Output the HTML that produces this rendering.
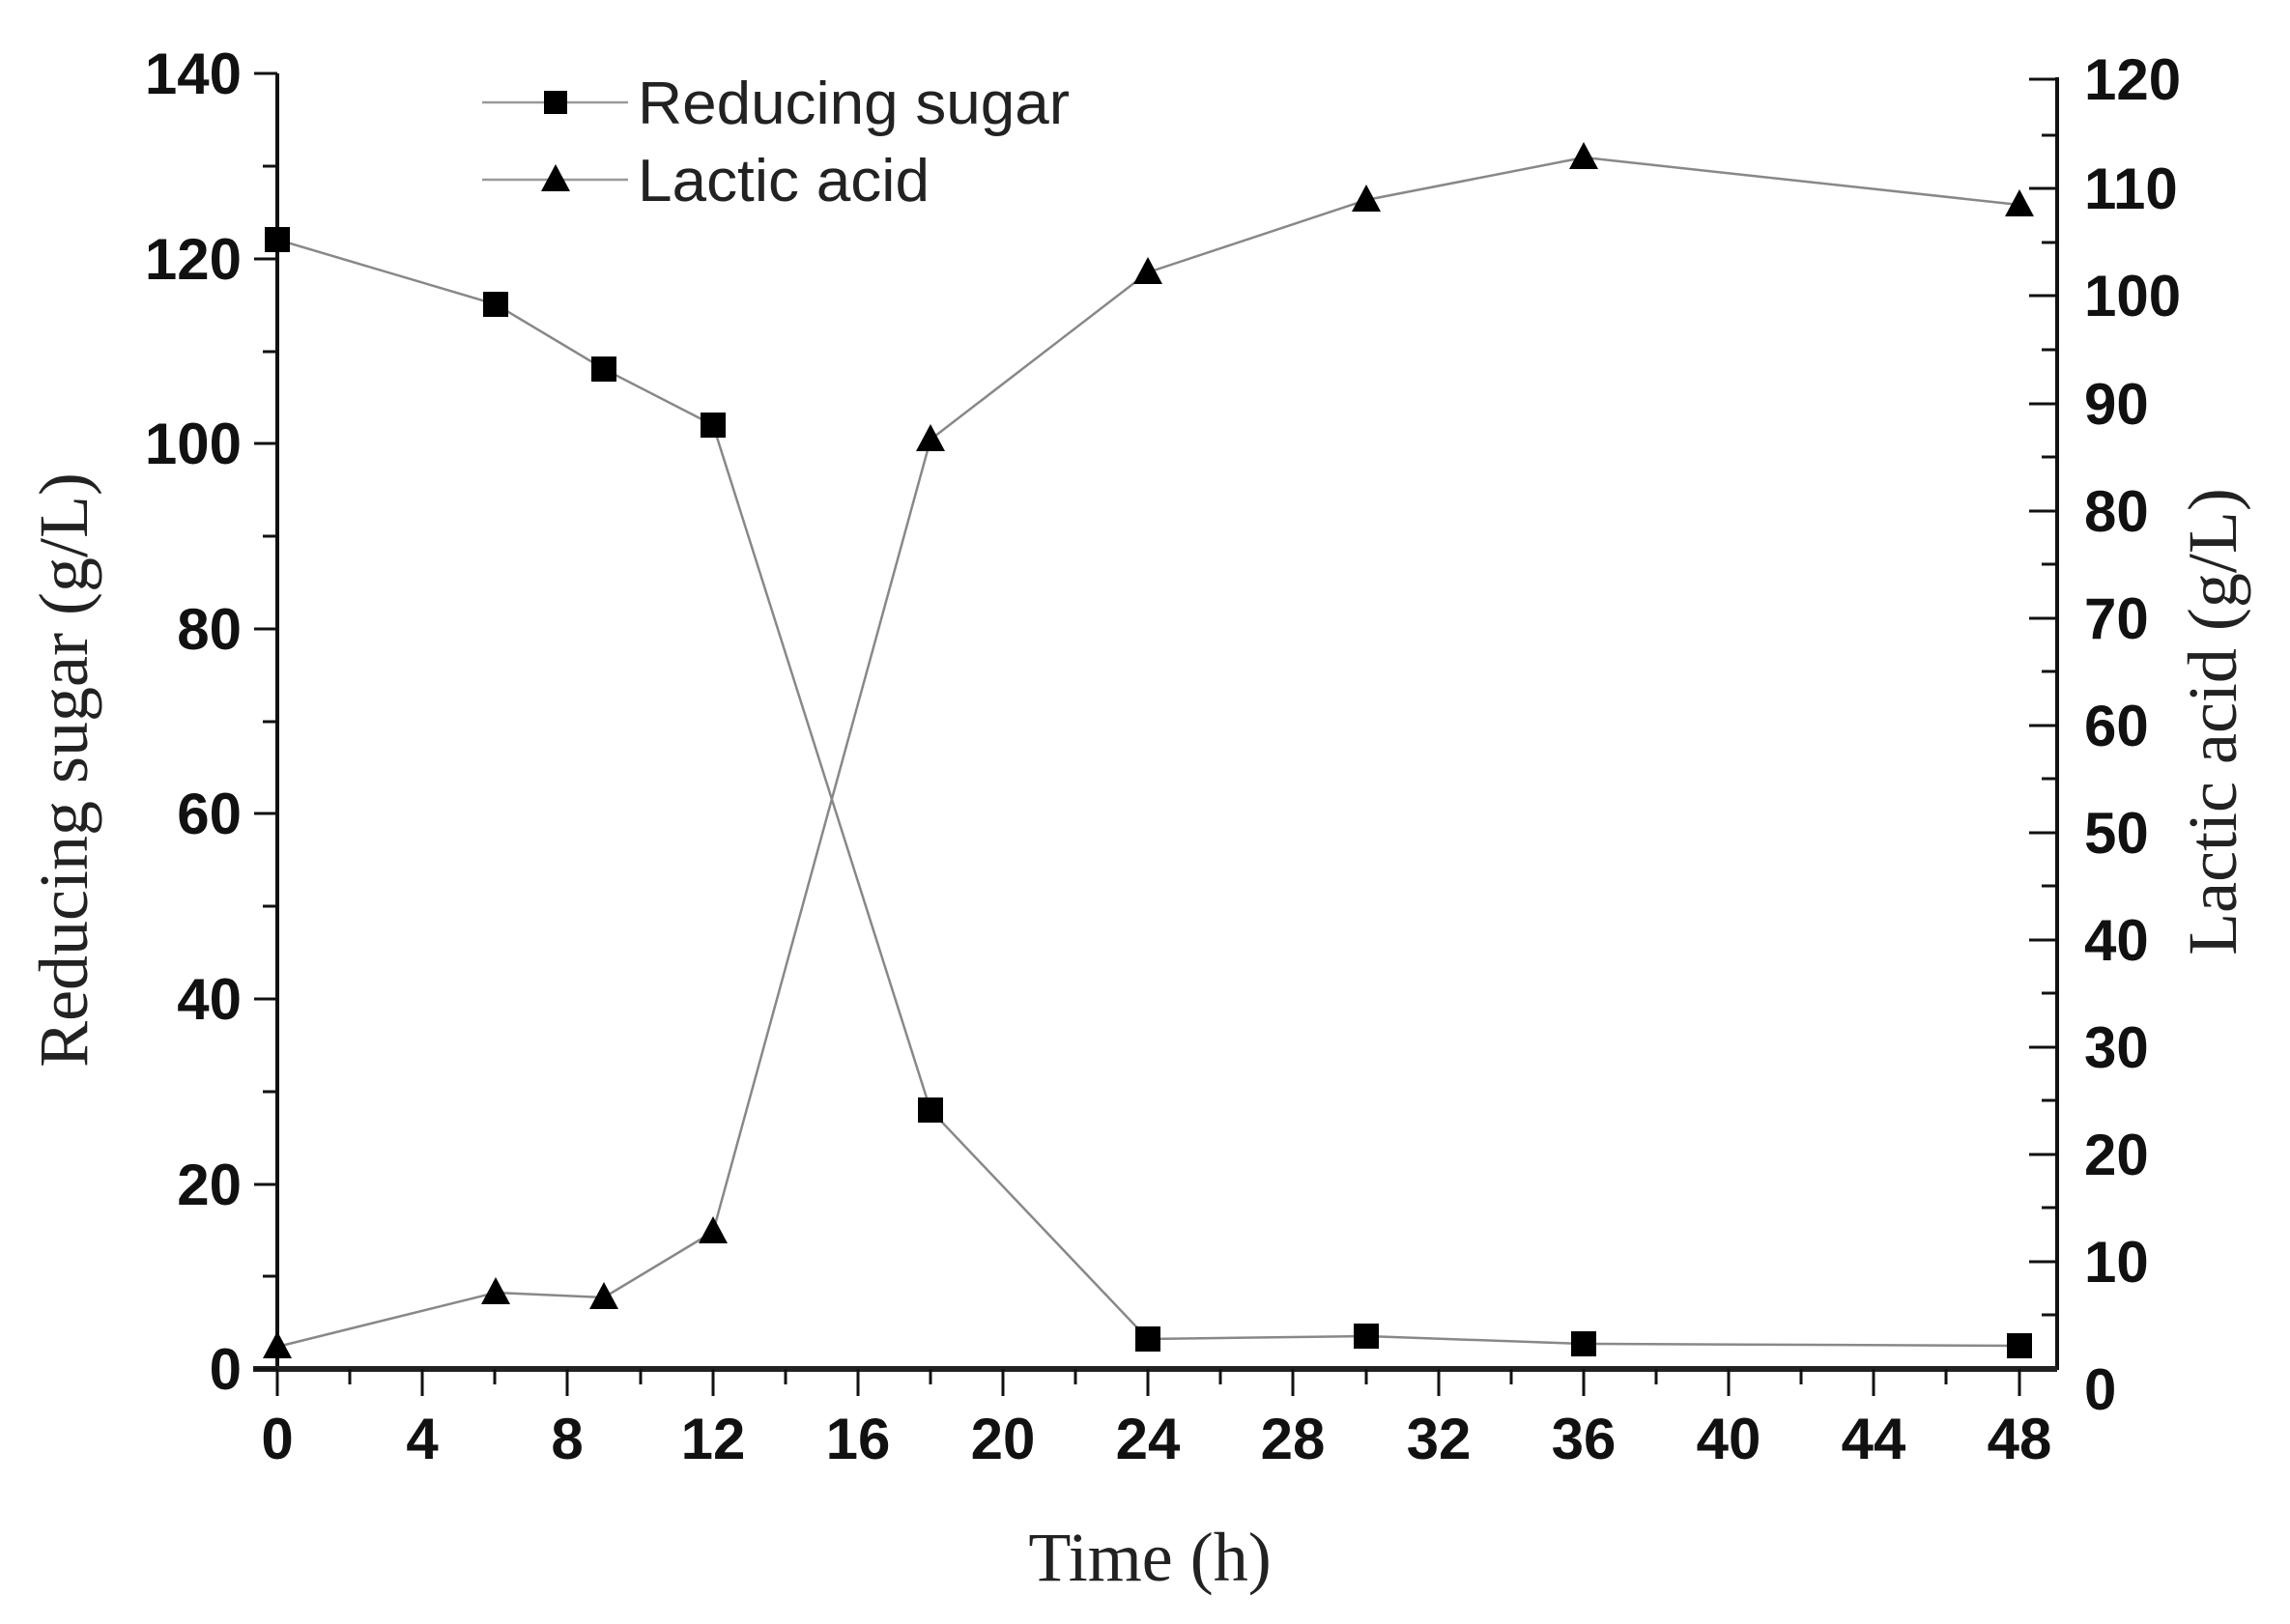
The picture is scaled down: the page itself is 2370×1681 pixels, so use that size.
<!DOCTYPE html>
<html><head><meta charset="utf-8"><style>html,body{margin:0;padding:0;background:#fff}svg{display:block}</style></head>
<body>
<svg width="2370" height="1681" viewBox="0 0 2370 1681" xmlns="http://www.w3.org/2000/svg">
<g stroke="#111" fill="none">
<line x1="287" y1="76" x2="287" y2="1418" stroke-width="4"/>
<line x1="2129" y1="80" x2="2129" y2="1418" stroke-width="4"/>
<line x1="262" y1="1417" x2="2129" y2="1417" stroke-width="6" stroke="#222"/>
</g>
<g font-family="'Liberation Sans', Arial, sans-serif" font-weight="bold" font-size="60" fill="#111">
<g stroke="#111" stroke-width="3">
<line x1="263" y1="1417" x2="287" y2="1417"/><line x1="272" y1="1321" x2="287" y2="1321"/>
<line x1="263" y1="1226" x2="287" y2="1226"/><line x1="272" y1="1130" x2="287" y2="1130"/>
<line x1="263" y1="1034" x2="287" y2="1034"/><line x1="272" y1="938" x2="287" y2="938"/>
<line x1="263" y1="842" x2="287" y2="842"/><line x1="272" y1="747" x2="287" y2="747"/>
<line x1="263" y1="651" x2="287" y2="651"/><line x1="272" y1="555" x2="287" y2="555"/>
<line x1="263" y1="459" x2="287" y2="459"/><line x1="272" y1="364" x2="287" y2="364"/>
<line x1="263" y1="268" x2="287" y2="268"/><line x1="272" y1="172" x2="287" y2="172"/>
<line x1="263" y1="76" x2="287" y2="76"/>
</g>
<g text-anchor="end">
<text x="250" y="1438">0</text><text x="250" y="1247">20</text><text x="250" y="1055">40</text>
<text x="250" y="863">60</text><text x="250" y="672">80</text><text x="250" y="480">100</text>
<text x="250" y="289">120</text><text x="250" y="97">140</text>
</g>
<g stroke="#111" stroke-width="3">
<line x1="2100" y1="1306" x2="2129" y2="1306"/><line x1="2113" y1="1361" x2="2129" y2="1361"/>
<line x1="2100" y1="1195" x2="2129" y2="1195"/><line x1="2113" y1="1250" x2="2129" y2="1250"/>
<line x1="2100" y1="1084" x2="2129" y2="1084"/><line x1="2113" y1="1139" x2="2129" y2="1139"/>
<line x1="2100" y1="973" x2="2129" y2="973"/><line x1="2113" y1="1028" x2="2129" y2="1028"/>
<line x1="2100" y1="862" x2="2129" y2="862"/><line x1="2113" y1="917" x2="2129" y2="917"/>
<line x1="2100" y1="751" x2="2129" y2="751"/><line x1="2113" y1="806" x2="2129" y2="806"/>
<line x1="2100" y1="640" x2="2129" y2="640"/><line x1="2113" y1="695" x2="2129" y2="695"/>
<line x1="2100" y1="529" x2="2129" y2="529"/><line x1="2113" y1="584" x2="2129" y2="584"/>
<line x1="2100" y1="418" x2="2129" y2="418"/><line x1="2113" y1="473" x2="2129" y2="473"/>
<line x1="2100" y1="306" x2="2129" y2="306"/><line x1="2113" y1="362" x2="2129" y2="362"/>
<line x1="2100" y1="195" x2="2129" y2="195"/><line x1="2113" y1="251" x2="2129" y2="251"/>
<line x1="2100" y1="82" x2="2129" y2="82"/><line x1="2113" y1="140" x2="2129" y2="140"/>
</g>
<g text-anchor="start">
<text x="2157" y="1459">0</text><text x="2157" y="1327">10</text><text x="2157" y="1216">20</text>
<text x="2157" y="1105">30</text><text x="2157" y="994">40</text><text x="2157" y="883">50</text>
<text x="2157" y="772">60</text><text x="2157" y="661">70</text><text x="2157" y="550">80</text>
<text x="2157" y="439">90</text><text x="2157" y="327">100</text><text x="2157" y="216">110</text>
<text x="2157" y="103">120</text>
</g>
<g stroke="#111" stroke-width="3">
<line x1="287" y1="1417" x2="287" y2="1445"/><line x1="362" y1="1417" x2="362" y2="1433"/>
<line x1="437" y1="1417" x2="437" y2="1445"/><line x1="512" y1="1417" x2="512" y2="1433"/>
<line x1="587" y1="1417" x2="587" y2="1445"/><line x1="663" y1="1417" x2="663" y2="1433"/>
<line x1="738" y1="1417" x2="738" y2="1445"/><line x1="813" y1="1417" x2="813" y2="1433"/>
<line x1="888" y1="1417" x2="888" y2="1445"/><line x1="963" y1="1417" x2="963" y2="1433"/>
<line x1="1038" y1="1417" x2="1038" y2="1445"/><line x1="1113" y1="1417" x2="1113" y2="1433"/>
<line x1="1188" y1="1417" x2="1188" y2="1445"/><line x1="1263" y1="1417" x2="1263" y2="1433"/>
<line x1="1338" y1="1417" x2="1338" y2="1445"/><line x1="1414" y1="1417" x2="1414" y2="1433"/>
<line x1="1489" y1="1417" x2="1489" y2="1445"/><line x1="1564" y1="1417" x2="1564" y2="1433"/>
<line x1="1639" y1="1417" x2="1639" y2="1445"/><line x1="1714" y1="1417" x2="1714" y2="1433"/>
<line x1="1789" y1="1417" x2="1789" y2="1445"/><line x1="1864" y1="1417" x2="1864" y2="1433"/>
<line x1="1939" y1="1417" x2="1939" y2="1445"/><line x1="2014" y1="1417" x2="2014" y2="1433"/>
<line x1="2090" y1="1417" x2="2090" y2="1445"/>
</g>
<g text-anchor="middle">
<text x="287" y="1510">0</text><text x="437" y="1510">4</text><text x="587" y="1510">8</text>
<text x="738" y="1510">12</text><text x="888" y="1510">16</text><text x="1038" y="1510">20</text>
<text x="1188" y="1510">24</text><text x="1338" y="1510">28</text><text x="1489" y="1510">32</text>
<text x="1639" y="1510">36</text><text x="1789" y="1510">40</text><text x="1939" y="1510">44</text>
<text x="2090" y="1510">48</text>
</g>
</g>
<g font-family="'Liberation Serif', 'Times New Roman', serif" font-size="72" fill="#222" text-anchor="middle">
<text x="1190" y="1636">Time (h)</text>
<text transform="translate(90,797) rotate(-90)">Reducing sugar (g/L)</text>
<text transform="translate(2314,747) rotate(-90)">Lactic acid (g/L)</text>
</g>
<g fill="none" stroke="#888" stroke-width="2.5">
<polyline points="287,248 513,315 625,382 738,440 963,1149 1188,1386 1414,1383 1639,1391 2090,1393"/>
<polyline points="287,1394 513,1338 625,1343 738,1275 963,455 1188,282 1414,207 1639,163 2090,212"/>
</g>
<g fill="#000">
<rect x="274" y="235" width="26" height="26"/>
<rect x="500" y="302" width="26" height="26"/>
<rect x="612" y="369" width="26" height="26"/>
<rect x="725" y="427" width="26" height="26"/>
<rect x="950" y="1136" width="26" height="26"/>
<rect x="1175" y="1373" width="26" height="26"/>
<rect x="1401" y="1370" width="26" height="26"/>
<rect x="1626" y="1378" width="26" height="26"/>
<rect x="2077" y="1380" width="26" height="26"/>
<polygon points="287,1378 302,1406 272,1406"/>
<polygon points="513,1322 528,1350 498,1350"/>
<polygon points="625,1327 640,1355 610,1355"/>
<polygon points="738,1259 753,1287 723,1287"/>
<polygon points="963,439 978,467 948,467"/>
<polygon points="1188,266 1203,294 1173,294"/>
<polygon points="1414,191 1429,219 1399,219"/>
<polygon points="1639,147 1654,175 1624,175"/>
<polygon points="2090,196 2105,224 2075,224"/>
</g>
<g stroke="#999" stroke-width="2.5">
<line x1="499" y1="106" x2="650" y2="106"/>
<line x1="499" y1="186" x2="650" y2="186"/>
</g>
<rect x="563" y="94" width="24" height="24" fill="#000"/>
<polygon points="575,170 590,198 560,198" fill="#000"/>
<g font-family="'Liberation Sans', Arial, sans-serif" font-size="62" fill="#222">
<text x="660" y="128" textLength="447" lengthAdjust="spacingAndGlyphs">Reducing sugar</text>
<text x="660" y="208" textLength="302" lengthAdjust="spacingAndGlyphs">Lactic acid</text>
</g>
</svg>
</body></html>
